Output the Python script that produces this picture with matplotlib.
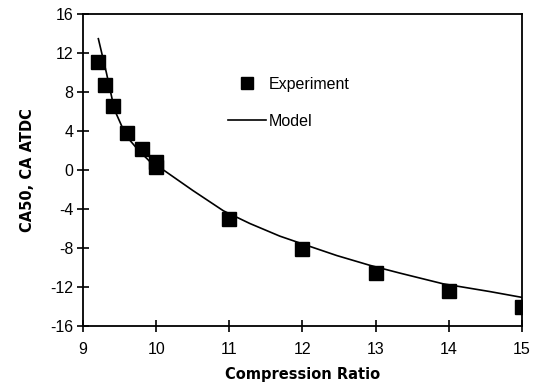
import matplotlib
matplotlib.use("Agg")
import matplotlib.pyplot as plt
from matplotlib.lines import Line2D

# Experiment data
exp_cr = [9.21, 9.30, 9.41, 9.60, 9.81, 10.0, 10.0, 11.0, 12.0, 13.0, 14.0, 15.0]
exp_ca50 = [11.1, 8.7, 6.6, 3.8, 2.2, 0.8, 0.3, -5.0, -8.1, -10.6, -12.4, -14.1]

# Model curve
model_cr = [9.21, 9.32, 9.43, 9.59, 9.75, 9.91, 10.1, 10.5, 10.92, 11.28, 11.69,
            12.0, 12.47, 12.92, 13.33, 13.92, 14.56, 15.0]
model_ca50 = [13.5, 10.0, 6.2, 3.5, 2.1, 0.9, 0.0, -2.1, -4.2, -5.5, -6.8,
              -7.6, -8.8, -9.8, -10.6, -11.7, -12.5, -13.1]

xticks = [9, 10, 11, 12, 13, 14, 15]
yticks = [-16, -12, -8, -4, 0, 4, 8, 12, 16]

plt.rcParams['font.family'] = ['Liberation Sans', 'DejaVu Sans']
plt.rcParams['axes.unicode_minus'] = False

fig = plt.figure(figsize=(5.34, 3.85), dpi=100)
ax = fig.add_axes([0.1554, 0.1543, 0.8221, 0.8083])

ax.plot(model_cr, model_ca50, color='black', lw=1.2, zorder=2)
ax.plot(exp_cr, exp_ca50, linestyle='none', marker='s', ms=10, color='black', zorder=3)

ax.set_xlim(9, 15)
ax.set_ylim(-16, 16)
ax.set_xticks(xticks)
ax.set_yticks(yticks)
ax.tick_params(direction='inout', length=8, width=1.2, labelsize=11.5, pad=3)
ax.tick_params(axis='x', pad=8)
for s in ax.spines.values():
    s.set_linewidth(1.3)

ax.set_xlabel('Compression Ratio', fontsize=10.5, fontweight='heavy', labelpad=7,
              family=['DejaVu Sans'])
ax.set_ylabel('CA50, CA ATDC', fontsize=10.5, fontweight='heavy', labelpad=11,
              family=['DejaVu Sans'])

handles = [Line2D([], [], linestyle='none', marker='s', ms=8.5, color='black'),
           Line2D([], [], color='black', lw=1.2)]
ax.legend(handles, ['Experiment', 'Model'], frameon=False, fontsize=11.5,
          loc='upper left', bbox_to_anchor=(0.33, 0.80), borderaxespad=0,
          borderpad=0, handlelength=2.4, handletextpad=0.15, labelspacing=1.4)

fig.savefig('out.png', dpi=100)
